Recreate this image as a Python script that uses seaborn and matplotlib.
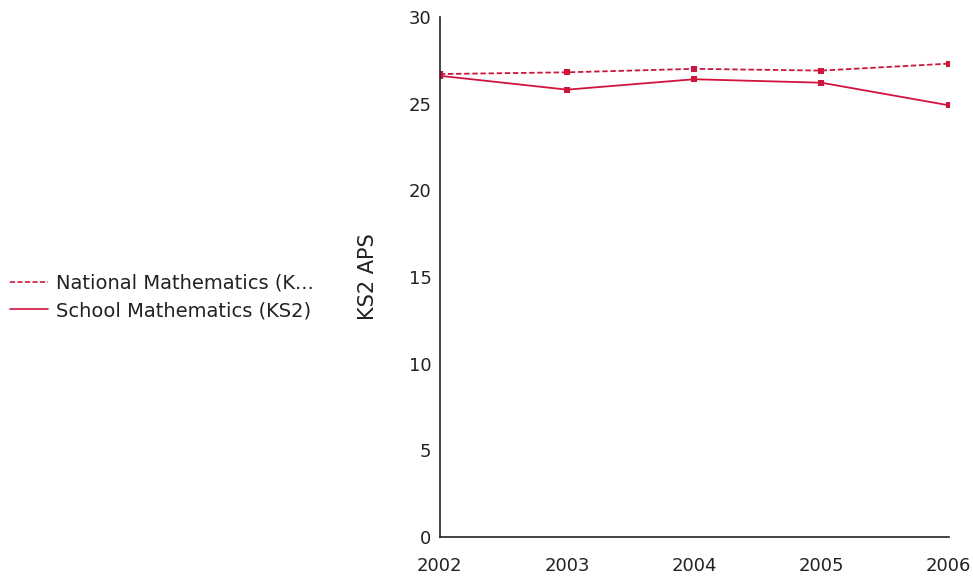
import pandas as pd
import seaborn as sns
import matplotlib.pyplot as plt

years = [2002, 2003, 2004, 2005, 2006]
national = [26.7, 26.8, 27.0, 26.9, 27.3]
school = [26.6, 25.8, 26.4, 26.2, 24.9]
series_names = ['National Mathematics (K...', 'School Mathematics (KS2)']

df = pd.DataFrame({
    'Year': years * 2,
    'APS': national + school,
    'Series': [series_names[0]] * 5 + [series_names[1]] * 5,
})

sns.set_style('white')
plt.rcParams['font.family'] = ['DejaVu Sans']

red = '#d2143c'
fig = plt.figure(figsize=(9.73, 5.8), dpi=100)
ax = fig.add_axes([0.452, 0.074, 0.523, 0.897])

sns.lineplot(data=df, x='Year', y='APS', hue='Series', style='Series',
             palette=[red, red], dashes={series_names[0]: (3, 1.5), series_names[1]: ''},
             markers={series_names[0]: 's', series_names[1]: 's'},
             markersize=5, markeredgewidth=0, linewidth=1.3, ax=ax, legend=False)

ax.set_xlim(2002, 2006)
ax.set_ylim(0, 30)
ax.set_xticks(years)
ax.set_yticks([0, 5, 10, 15, 20, 25, 30])
ax.tick_params(axis='both', labelsize=13, colors='#222222', length=0, pad=6)
ax.tick_params(axis='x', pad=14)
ax.set_xlabel('')
ax.set_ylabel('KS2 APS', fontsize=15, color='#222222', labelpad=22)
for s in ['top', 'right']:
    ax.spines[s].set_visible(False)
for s in ['left', 'bottom']:
    ax.spines[s].set_color('#222222')
    ax.spines[s].set_linewidth(1.2)

handles = [plt.Line2D([], [], color=red, lw=1.2, ls=(0, (3, 1.5))),
           plt.Line2D([], [], color=red, lw=1.2)]
fig.legend(handles, series_names, loc='center left', bbox_to_anchor=(0.0, 0.488),
           frameon=False, fontsize=14, handlelength=1.95, handletextpad=0.45,
           labelspacing=0.42, borderaxespad=0, borderpad=0.5, labelcolor='#222222')

fig.savefig('out.png', dpi=100)
